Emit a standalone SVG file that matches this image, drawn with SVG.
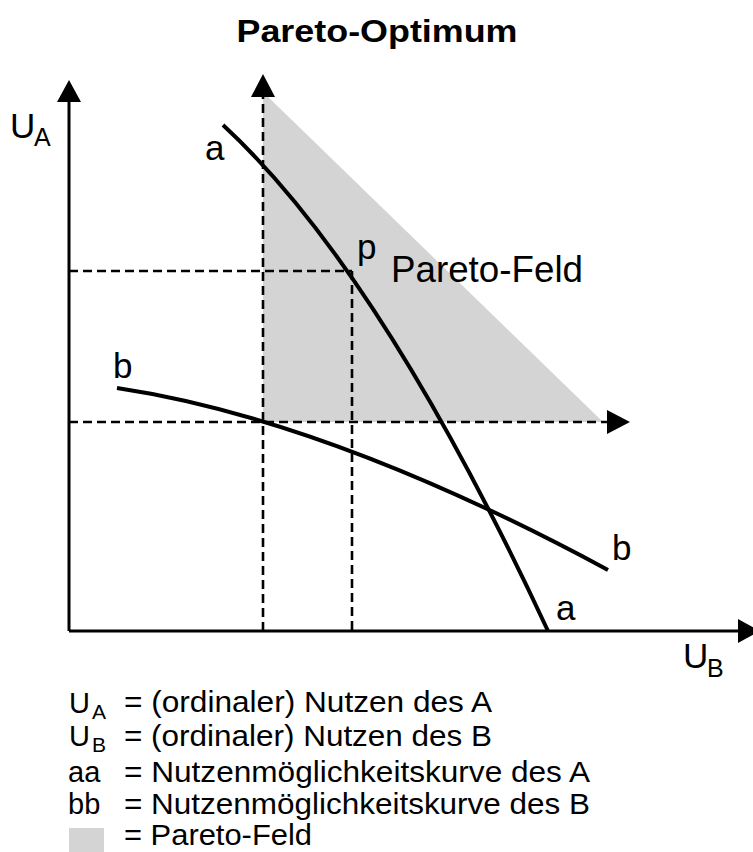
<svg xmlns="http://www.w3.org/2000/svg" width="753" height="852" viewBox="0 0 753 852">
<style>
text{font-family:"Liberation Sans",Arial,Helvetica,sans-serif;fill:#000}
.t{font-size:35px}
.sub{font-size:25px}
.lg{font-size:29px}
.lgs{font-size:21px}
.axis{stroke:#000;stroke-width:3;fill:none}
.dash{stroke:#000;stroke-width:2.6;fill:none;stroke-dasharray:9 5}
.curve{stroke:#000;stroke-width:4;fill:none}
</style>
<rect width="753" height="852" fill="#fff"/>
<text x="377" y="42" text-anchor="middle" font-weight="bold" font-size="31" textLength="281" lengthAdjust="spacingAndGlyphs">Pareto-Optimum</text>
<g id="pareto-field"><polygon points="263,92 263,422 603,422" fill="#d4d4d4"/></g>
<g id="connectors">
<line class="dash" x1="263" y1="631" x2="263" y2="96"/>
<path d="M251,97 L263,74 L275,97 Z" fill="#000"/>
<line class="dash" x1="69" y1="422" x2="607" y2="422"/>
<path d="M607,410 L630,422 L607,434 Z" fill="#000"/>
<line class="dash" x1="69" y1="271" x2="352" y2="271"/>
<line class="dash" x1="352" y1="271" x2="352" y2="631"/>
<line class="axis" x1="69" y1="631" x2="69" y2="100"/>
<path d="M57,102 L69,80 L81,102 Z" fill="#000"/>
<line class="axis" x1="69" y1="631" x2="738" y2="631"/>
<path d="M738,619 L760,631 L738,643 Z" fill="#000"/>
</g>
<g id="curve-a"><path class="curve" d="M223,125 Q380,270 548,631"/>
<text class="t" x="205" y="160">a</text>
<text class="t" x="556" y="620">a</text></g>
<g id="curve-b"><path class="curve" d="M117,388 Q330,420 608,570"/>
<text class="t" x="113" y="378">b</text>
<text class="t" x="612" y="560">b</text></g>
<g id="point-p"><text class="t" x="357" y="259">p</text></g>
<g id="label-field"><text x="391" y="282" font-size="36" textLength="192" lengthAdjust="spacingAndGlyphs">Pareto-Feld</text></g>
<g id="axis-labels">
<text class="t" x="10" y="138">U</text><text class="sub" x="34" y="146">A</text>
<text class="t" x="683" y="668">U</text><text class="sub" x="707" y="677">B</text>
</g>
<g id="legend">
<text class="lg" x="69" y="713">U</text><text class="lgs" x="92" y="719">A</text>
<text class="lg" x="124" y="712" textLength="368" lengthAdjust="spacingAndGlyphs">= (ordinaler) Nutzen des A</text>
<text class="lg" x="69" y="746">U</text><text class="lgs" x="92" y="752">B</text>
<text class="lg" x="124" y="746" textLength="368" lengthAdjust="spacingAndGlyphs">= (ordinaler) Nutzen des B</text>
<text class="lg" x="68" y="782">aa</text>
<text class="lg" x="124" y="782" textLength="466" lengthAdjust="spacingAndGlyphs">= Nutzenmöglichkeitskurve des A</text>
<text class="lg" x="68" y="814">bb</text>
<text class="lg" x="124" y="814" textLength="466" lengthAdjust="spacingAndGlyphs">= Nutzenmöglichkeitskurve des B</text>
<rect x="69" y="828" width="35" height="24" fill="#d4d4d4"/>
<text class="lg" x="124" y="845" textLength="188" lengthAdjust="spacingAndGlyphs">= Pareto-Feld</text>
</g>
</svg>
